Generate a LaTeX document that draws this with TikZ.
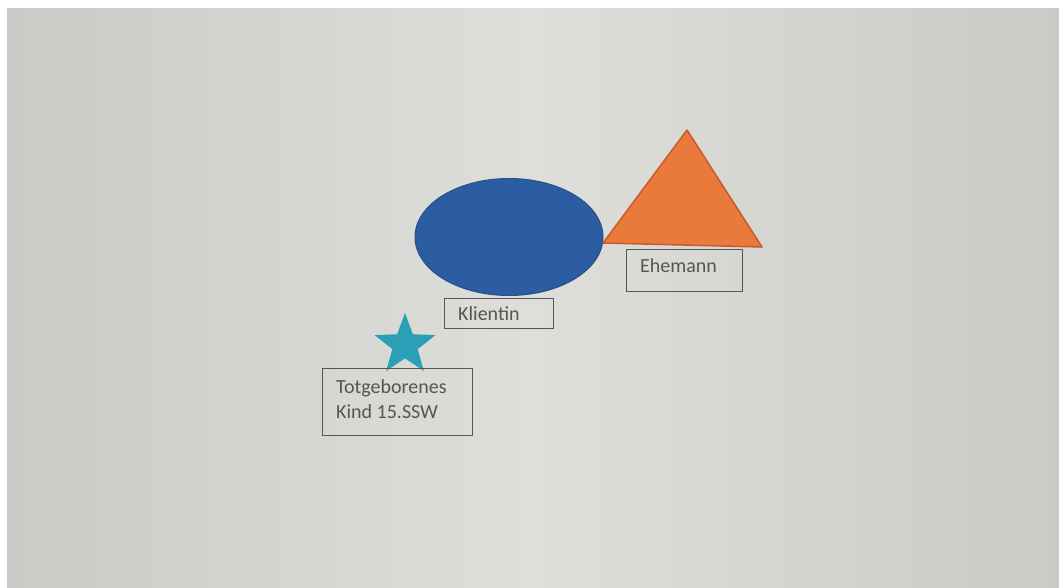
\documentclass[tikz,border=0pt]{standalone}
\usepackage{fontspec}
\setmainfont{Carlito}
\usetikzlibrary{shapes.geometric}
\definecolor{bgmid}{HTML}{DEDEDA}
\definecolor{bgside}{HTML}{CACAC6}
\definecolor{blfill}{HTML}{2C5CA2}
\definecolor{blline}{HTML}{2A4F86}
\definecolor{orfill}{HTML}{EA7A3C}
\definecolor{orline}{HTML}{C95A2C}
\definecolor{teal}{HTML}{2A9FB6}
\definecolor{txt}{HTML}{555555}
\definecolor{boxline}{HTML}{555555}
\tikzset{
  label box/.style={draw=boxline, line width=0.8pt, anchor=north west, inner sep=0pt},
  label text/.style={anchor=west, text=txt, inner sep=0pt, font=\fontsize{20}{22}\selectfont},
}
\begin{document}
\begin{tikzpicture}[x=1pt,y=-1pt]
\useasboundingbox (0,0) rectangle (1059,587);
\fill[white] (0,0) rectangle (1059,587);
\shade[left color=bgside, right color=bgside, middle color=bgmid] (7,8) rectangle (1059,587);
% ellipse (Klientin)
\node[ellipse, draw=blline, fill=blfill, line width=1pt, minimum width=188pt, minimum height=117pt, inner sep=0pt] (kl) at (509,237) {};
% triangle (Ehemann)
\coordinate (tA) at (687,130);
\coordinate (tB) at (603,243);
\coordinate (tC) at (762,247);
\draw[fill=orfill, draw=orline, line width=1.5pt, line join=round] (tA) -- (tC) -- (tB) -- cycle;
% star (child)
\node[star, star points=5, star point ratio=2.4, fill=teal, minimum size=64pt, inner sep=0pt] (st) at (405,345) {};
% label boxes
\node[label box, minimum width=116pt, minimum height=42pt] (eh) at (626,249) {};
\node[label text] (ehT) at (640,266) {Ehemann};
\node[label box, minimum width=109pt, minimum height=30pt] (kb) at (444,298) {};
\node[label text] (kbT) at (458,314) {Klientin};
\node[label box, minimum width=150pt, minimum height=67pt] (tb) at (322,368) {};
\node[label text] (tbT1) at (336,388) {Totgeborenes};
\node[label text] (tbT2) at (336,412) {Kind 15.SSW};
\end{tikzpicture}
\end{document}
